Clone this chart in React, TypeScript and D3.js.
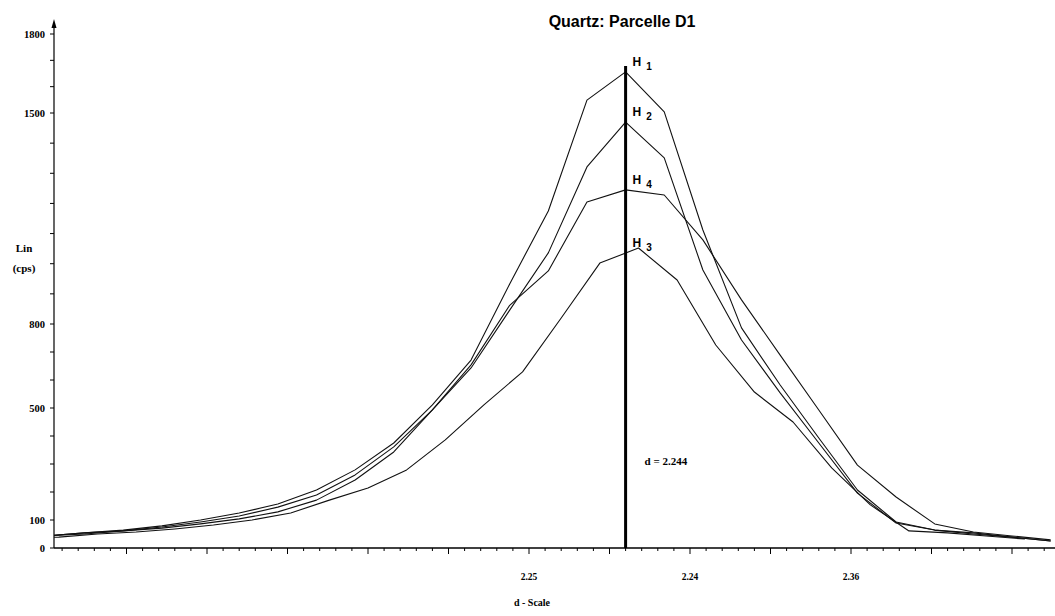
import React, { useEffect, useRef } from 'react';
import * as d3 from 'd3';

// d-spacing sample positions (two scan grids)
const dGridA = [2.28, 2.2776, 2.2752, 2.2728, 2.2704, 2.268, 2.2656, 2.2632, 2.2608, 2.2584, 2.256, 2.2536, 2.2512, 2.2488, 2.2464, 2.244, 2.2416, 2.2392, 2.2368, 2.2344, 2.232, 2.2296, 2.2272, 2.2248, 2.2224, 2.22, 2.2176];
const dGridB = [2.2816, 2.2792, 2.2768, 2.2744, 2.272, 2.2696, 2.2672, 2.2648, 2.2624, 2.26, 2.2576, 2.2552, 2.2528, 2.2504, 2.248, 2.2456, 2.2432, 2.2408, 2.2384, 2.236, 2.2336, 2.2312, 2.2288, 2.2264, 2.224, 2.2216, 2.2192];

// intensities (cps)
const h1 = [43, 54, 64, 79, 100, 125, 157, 207, 279, 375, 511, 671, 933, 1175, 1549, 1656, 1504, 1112, 786, 582, 393, 207, 93, 64, 54, 39, 25];
const h2 = [43, 54, 61, 75, 93, 114, 146, 189, 261, 361, 493, 643, 846, 1036, 1321, 1470, 1351, 979, 743, 554, 375, 196, 89, 64, 50, 39, 25];
const h4 = [43, 50, 61, 71, 86, 104, 129, 171, 243, 343, 493, 654, 862, 976, 1205, 1245, 1228, 1079, 880, 689, 493, 296, 182, 86, 57, 43, 29];
const h3 = [36, 39, 50, 57, 68, 82, 100, 125, 171, 214, 279, 386, 511, 629, 820, 1002, 1052, 946, 725, 557, 450, 286, 154, 61, 54, 43, 32];

const seriesNames = ['1', '2', '4', '3'];

const yTickValues = [0, 100, 500, 800, 1500, 1800];
const yTickLabels = ['0', '100', '500', '800', '1500', '1800'];
const xTickValues = [2.25, 2.24, 2.23];
const xTickLabels = ['2.25', '2.24', '2.36'];
const peakD = 2.244;

const App = () => {
  const ref = useRef<SVGSVGElement | null>(null);

  useEffect(() => {
    const width = 1055;
    const height = 616;
    const left = 54;
    const bottom = 548;

    const svg = d3.select(ref.current);
    svg.selectAll('*').remove();
    svg.attr('width', width).attr('height', height);

    const x = d3.scaleLinear().domain([2.25, 2.24]).range([529, 690]);
    // scanned axis is not quite uniform: piecewise through the labelled ticks
    const y = d3.scaleLinear().domain([0, 800, 1500, 1800]).range([bottom, 324, 113, 34]);

    const series = [
      { name: seriesNames[0], d: dGridA, v: h1 },
      { name: seriesNames[1], d: dGridA, v: h2 },
      { name: seriesNames[2], d: dGridA, v: h4 },
      { name: seriesNames[3], d: dGridB, v: h3 },
    ];

    svg.append('defs').append('clipPath').attr('id', 'plot')
      .append('rect').attr('x', left).attr('y', 0).attr('width', width - left).attr('height', bottom);

    // title
    svg.append('text')
      .attr('x', 622).attr('y', 27)
      .attr('text-anchor', 'middle')
      .attr('font-family', 'Liberation Sans, Arial, sans-serif')
      .attr('font-weight', 'bold')
      .attr('font-size', 16)
      .text('Quartz: Parcelle D1');

    // y axis
    svg.append('line')
      .attr('x1', left).attr('x2', left).attr('y1', bottom).attr('y2', 24)
      .attr('stroke', '#000').attr('stroke-width', 1.2);
    svg.append('path')
      .attr('d', `M${left - 2.5},28 L${left},19 L${left + 2.5},28 Z`)
      .attr('fill', '#000');

    svg.append('g').selectAll('line')
      .data(d3.range(0, 1801, 100))
      .enter().append('line')
      .attr('x1', left - 4).attr('x2', left)
      .attr('y1', d => y(d)).attr('y2', d => y(d))
      .attr('stroke', '#000');

    svg.append('g').selectAll('text')
      .data(yTickValues)
      .enter().append('text')
      .attr('x', left - 9)
      .attr('y', d => y(d) + 3.5)
      .attr('text-anchor', 'end')
      .attr('font-family', 'Liberation Serif, serif')
      .attr('font-weight', 'bold')
      .attr('font-size', 10.5)
      .text((d, i) => yTickLabels[i]);

    const yLab = svg.append('text')
      .attr('font-family', 'Liberation Serif, serif')
      .attr('font-weight', 'bold')
      .attr('font-size', 11)
      .attr('text-anchor', 'middle');
    yLab.append('tspan').attr('x', 24).attr('y', 252).text('Lin');
    yLab.append('tspan').attr('x', 24).attr('y', 272).text('(cps)');

    // x axis
    svg.append('line')
      .attr('x1', left).attr('x2', width).attr('y1', bottom).attr('y2', bottom)
      .attr('stroke', '#000').attr('stroke-width', 1.5);

    const minor = d3.range(0, 64).map(i => 2.28 - i * 0.001).filter(d => x(d) >= left && x(d) <= width);
    svg.append('g').selectAll('line')
      .data(minor)
      .enter().append('line')
      .attr('x1', d => x(d)).attr('x2', d => x(d))
      .attr('y1', bottom)
      .attr('y2', d => bottom + (Math.round(d * 1000) % 5 === 0 ? 6 : 3))
      .attr('stroke', '#000');

    svg.append('g').selectAll('text')
      .data(xTickValues)
      .enter().append('text')
      .attr('x', d => x(d))
      .attr('y', 580)
      .attr('text-anchor', 'middle')
      .attr('font-family', 'Liberation Serif, serif')
      .attr('font-weight', 'bold')
      .attr('font-size', 9.5)
      .text((d, i) => xTickLabels[i]);

    svg.append('text')
      .attr('x', 532).attr('y', 606)
      .attr('text-anchor', 'middle')
      .attr('font-family', 'Liberation Serif, serif')
      .attr('font-weight', 'bold')
      .attr('font-size', 10)
      .text('d - Scale');

    // curves
    const line = d3.line<[number, number]>()
      .x(p => x(p[0]))
      .y(p => y(p[1]));

    svg.append('g').attr('clip-path', 'url(#plot)')
      .selectAll('path')
      .data(series)
      .enter().append('path')
      .attr('d', s => line(s.d.map((d, i) => [d, s.v[i]] as [number, number])))
      .attr('fill', 'none')
      .attr('stroke', '#111')
      .attr('stroke-width', 1.1)
      .attr('stroke-linejoin', 'round');

    // peak marker
    svg.append('line')
      .attr('x1', x(peakD)).attr('x2', x(peakD))
      .attr('y1', bottom).attr('y2', 66)
      .attr('stroke', '#000').attr('stroke-width', 3);

    svg.append('text')
      .attr('x', x(peakD) + 19).attr('y', 465)
      .attr('font-family', 'Liberation Serif, serif')
      .attr('font-weight', 'bold')
      .attr('font-size', 11)
      .text('d = 2.244');

    // H labels next to the marker
    series.forEach(s => {
      const atLine = d3.scaleLinear().domain(s.d).range(s.v)(peakD);
      const t = svg.append('text')
        .attr('x', x(peakD) + 7)
        .attr('y', y(atLine) - 6)
        .attr('font-family', 'Liberation Sans, Arial, sans-serif')
        .attr('font-weight', 'bold')
        .attr('font-size', 12);
      t.append('tspan').text('H');
      t.append('tspan').attr('dx', 5).attr('dy', 4).attr('font-size', 10).text(s.name);
    });
  }, []);

  return (
    <div style={{ position: 'absolute', left: 0, top: 0 }}>
      <svg ref={ref} />
    </div>
  );
};

export default App;
